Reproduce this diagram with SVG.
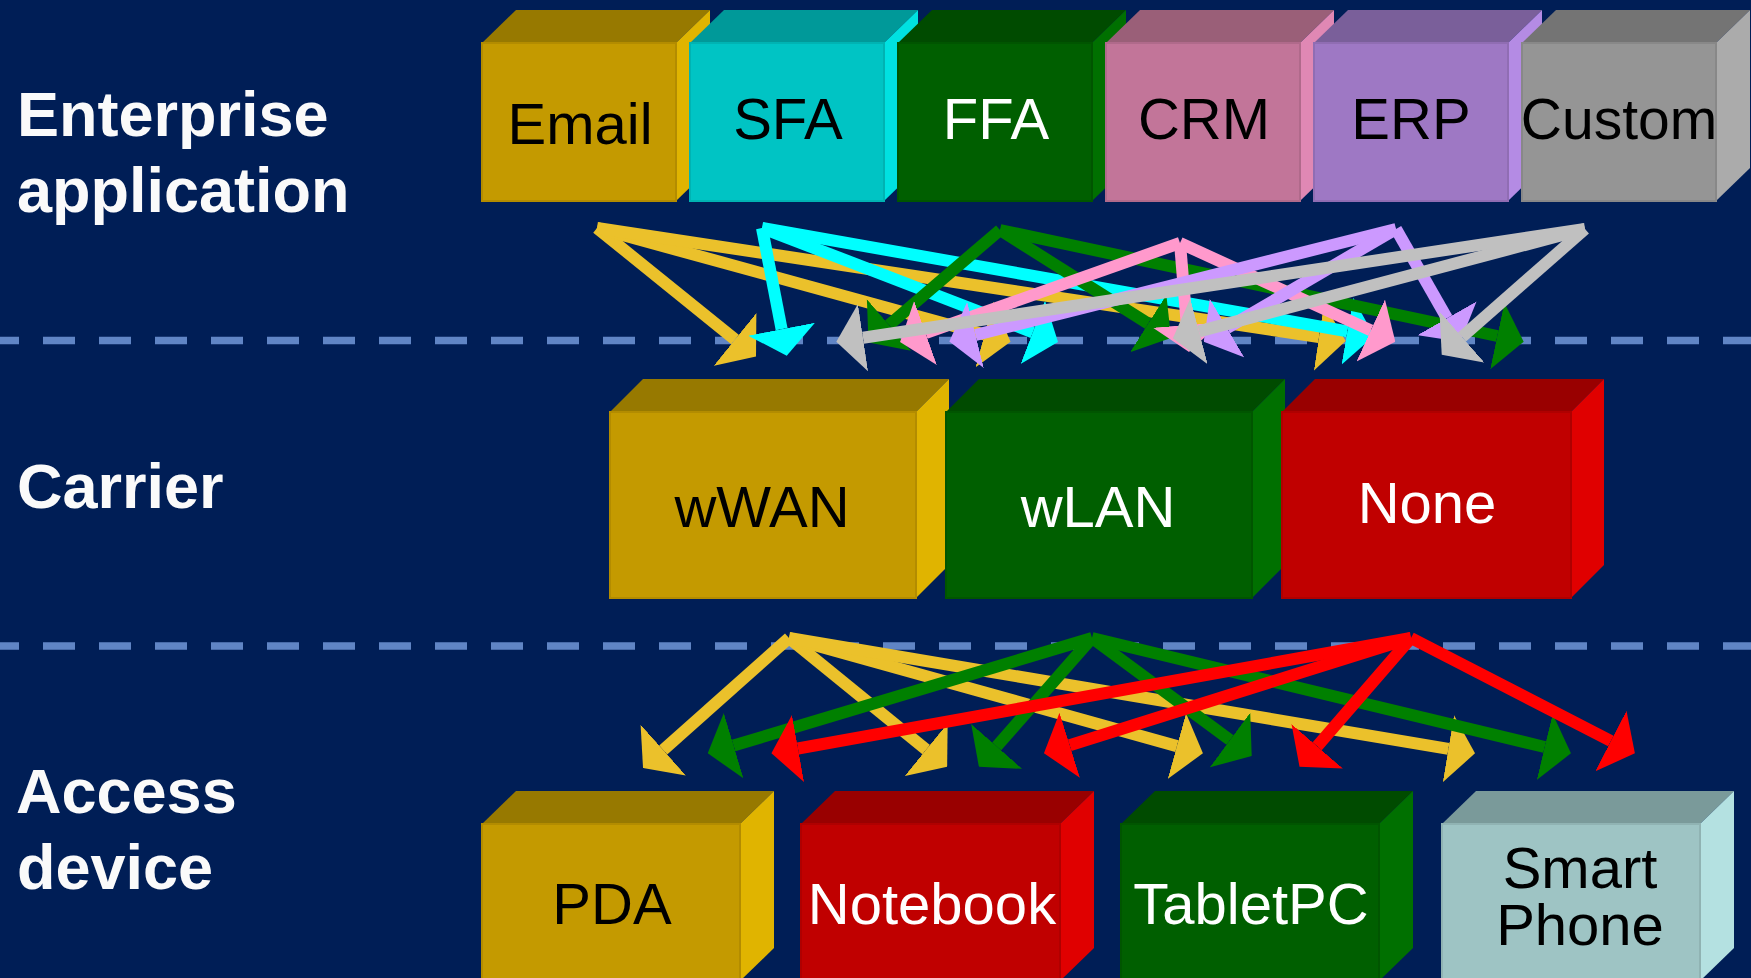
<svg xmlns="http://www.w3.org/2000/svg" width="1751" height="978" viewBox="0 0 1751 978">
  <style>
    .label { font-family: "Liberation Sans", Arial, sans-serif; font-weight: bold; font-size: 63px; fill: #FAFAFA; }
    .node-text { font-family: "Liberation Sans", Arial, sans-serif; font-size: 58px; text-anchor: middle; }
    .dark { fill: #000000; }
    .light { fill: #FFFFFF; }
    .divider { stroke: #6085C5; stroke-width: 7.5; stroke-dasharray: 32 24; fill: none; }
    .front { stroke-width: 2; }
    /* colour sets for the 3D boxes: front / top / side */
    .gold .front { fill: #C49A00; stroke: #B38C00; }
    .gold .top { fill: #977900; }
    .gold .side { fill: #E0B400; }
    .cyan .front { fill: #00C4C4; stroke: #00B3B3; }
    .cyan .top { fill: #009999; }
    .cyan .side { fill: #00E1E1; }
    .green .front { fill: #005F00; stroke: #005500; }
    .green .top { fill: #004B00; }
    .green .side { fill: #007000; }
    .pink .front { fill: #C27599; stroke: #B06A8B; }
    .pink .top { fill: #9A5F78; }
    .pink .side { fill: #E088B4; }
    .lavender .front { fill: #9E78C4; stroke: #906DB3; }
    .lavender .top { fill: #7A5F9A; }
    .lavender .side { fill: #B48BE4; }
    .grey .front { fill: #959595; stroke: #888888; }
    .grey .top { fill: #747474; }
    .grey .side { fill: #ABABAB; }
    .red .front { fill: #C00000; stroke: #AF0000; }
    .red .top { fill: #990000; }
    .red .side { fill: #E00000; }
    .teal .front { fill: #9EC4C4; stroke: #90B3B3; }
    .teal .top { fill: #7A9A9A; }
    .teal .side { fill: #B4E1E1; }
    /* connectors */
    #connectors line { stroke-width: 12; fill: none; }
    .a-yellow { stroke: #EBC12B; marker-end: url(#head-yellow); }
    .a-cyan { stroke: #00FFFF; marker-end: url(#head-cyan); }
    .a-green { stroke: #008000; marker-end: url(#head-green); }
    .a-pink { stroke: #FF99CC; marker-end: url(#head-pink); }
    .a-lavender { stroke: #CC99FF; marker-end: url(#head-lavender); }
    .a-grey { stroke: #C0C0C0; marker-end: url(#head-grey); }
    .a-red { stroke: #FF0000; marker-end: url(#head-red); }
  </style>
  <defs>
    <marker id="head-yellow" markerUnits="userSpaceOnUse" viewBox="0 0 27 68" markerWidth="27" markerHeight="68" refX="0" refY="34" orient="auto"><path d="M0,0 L27,34 L0,68 Z" fill="#EBC12B"/></marker>
    <marker id="head-cyan" markerUnits="userSpaceOnUse" viewBox="0 0 27 68" markerWidth="27" markerHeight="68" refX="0" refY="34" orient="auto"><path d="M0,0 L27,34 L0,68 Z" fill="#00FFFF"/></marker>
    <marker id="head-green" markerUnits="userSpaceOnUse" viewBox="0 0 27 68" markerWidth="27" markerHeight="68" refX="0" refY="34" orient="auto"><path d="M0,0 L27,34 L0,68 Z" fill="#008000"/></marker>
    <marker id="head-pink" markerUnits="userSpaceOnUse" viewBox="0 0 27 68" markerWidth="27" markerHeight="68" refX="0" refY="34" orient="auto"><path d="M0,0 L27,34 L0,68 Z" fill="#FF99CC"/></marker>
    <marker id="head-lavender" markerUnits="userSpaceOnUse" viewBox="0 0 27 68" markerWidth="27" markerHeight="68" refX="0" refY="34" orient="auto"><path d="M0,0 L27,34 L0,68 Z" fill="#CC99FF"/></marker>
    <marker id="head-grey" markerUnits="userSpaceOnUse" viewBox="0 0 27 68" markerWidth="27" markerHeight="68" refX="0" refY="34" orient="auto"><path d="M0,0 L27,34 L0,68 Z" fill="#C0C0C0"/></marker>
    <marker id="head-red" markerUnits="userSpaceOnUse" viewBox="0 0 27 68" markerWidth="27" markerHeight="68" refX="0" refY="34" orient="auto"><path d="M0,0 L27,34 L0,68 Z" fill="#FF0000"/></marker>
  </defs>

  <!-- background -->
  <rect x="0" y="0" width="1751" height="978" fill="#001E56"/>

  <!-- layer dividers -->
  <line class="divider" x1="-13" y1="340.5" x2="1751" y2="340.5"/>
  <line class="divider" x1="-13" y1="646" x2="1751" y2="646"/>

  <!-- layer labels -->
  <g id="layer-labels">
    <text class="label" x="17" y="136">Enterprise</text>
    <text class="label" x="17" y="212">application</text>
    <text class="label" x="17" y="508">Carrier</text>
    <text class="label" x="16" y="813">Access</text>
    <text class="label" x="17" y="889">device</text>
  </g>

  <!-- enterprise applications (front y 43..201, depth 34/33) -->
  <g id="node-email" class="gold">
    <polygon class="top" points="482,43 516,10 710,10 676,43"/>
    <polygon class="side" points="676,43 710,10 710,168 676,201"/>
    <rect class="front" x="482" y="43" width="194" height="158"/>
    <text class="node-text dark" x="580" y="144">Email</text>
  </g>
  <g id="node-sfa" class="cyan">
    <polygon class="top" points="690,43 724,10 918,10 884,43"/>
    <polygon class="side" points="884,43 918,10 918,168 884,201"/>
    <rect class="front" x="690" y="43" width="194" height="158"/>
    <text class="node-text dark" x="788" y="139">SFA</text>
  </g>
  <g id="node-ffa" class="green">
    <polygon class="top" points="898,43 932,10 1126,10 1092,43"/>
    <polygon class="side" points="1092,43 1126,10 1126,168 1092,201"/>
    <rect class="front" x="898" y="43" width="194" height="158"/>
    <text class="node-text light" x="996" y="139">FFA</text>
  </g>
  <g id="node-crm" class="pink">
    <polygon class="top" points="1106,43 1140,10 1334,10 1300,43"/>
    <polygon class="side" points="1300,43 1334,10 1334,168 1300,201"/>
    <rect class="front" x="1106" y="43" width="194" height="158"/>
    <text class="node-text dark" x="1204" y="139">CRM</text>
  </g>
  <g id="node-erp" class="lavender">
    <polygon class="top" points="1314,43 1348,10 1542,10 1508,43"/>
    <polygon class="side" points="1508,43 1542,10 1542,168 1508,201"/>
    <rect class="front" x="1314" y="43" width="194" height="158"/>
    <text class="node-text dark" x="1411" y="139">ERP</text>
  </g>
  <g id="node-custom" class="grey">
    <polygon class="top" points="1522,43 1556,10 1750,10 1716,43"/>
    <polygon class="side" points="1716,43 1750,10 1750,168 1716,201"/>
    <rect class="front" x="1522" y="43" width="194" height="158"/>
    <text class="node-text dark" x="1619" y="139" style="font-size:57px">Custom</text>
  </g>

  <!-- carriers (front y 412..598) -->
  <g id="node-wwan" class="gold">
    <polygon class="top" points="610,412 643,379 949,379 916,412"/>
    <polygon class="side" points="916,412 949,379 949,565 916,598"/>
    <rect class="front" x="610" y="412" width="306" height="186"/>
    <text class="node-text dark" x="762" y="527">wWAN</text>
  </g>
  <g id="node-wlan" class="green">
    <polygon class="top" points="946,412 979,379 1285,379 1252,412"/>
    <polygon class="side" points="1252,412 1285,379 1285,565 1252,598"/>
    <rect class="front" x="946" y="412" width="306" height="186"/>
    <text class="node-text light" x="1098" y="527">wLAN</text>
  </g>
  <g id="node-none" class="red">
    <polygon class="top" points="1282,412 1315,379 1604,379 1571,412"/>
    <polygon class="side" points="1571,412 1604,379 1604,565 1571,598"/>
    <rect class="front" x="1282" y="412" width="289" height="186"/>
    <text class="node-text light" x="1427" y="523">None</text>
  </g>

  <!-- access devices (front from y 824, running off the bottom) -->
  <g id="node-pda" class="gold">
    <polygon class="top" points="482,824 516,791 774,791 740,824"/>
    <polygon class="side" points="740,824 774,791 774,948 740,981"/>
    <rect class="front" x="482" y="824" width="258" height="157"/>
    <text class="node-text dark" x="612" y="924">PDA</text>
  </g>
  <g id="node-notebook" class="red">
    <polygon class="top" points="801,824 835,791 1094,791 1060,824"/>
    <polygon class="side" points="1060,824 1094,791 1094,948 1060,981"/>
    <rect class="front" x="801" y="824" width="259" height="157"/>
    <text class="node-text light" x="932" y="924">Notebook</text>
  </g>
  <g id="node-tabletpc" class="green">
    <polygon class="top" points="1121,824 1155,791 1413,791 1379,824"/>
    <polygon class="side" points="1379,824 1413,791 1413,948 1379,981"/>
    <rect class="front" x="1121" y="824" width="258" height="157"/>
    <text class="node-text light" x="1251" y="924">TabletPC</text>
  </g>
  <g id="node-smartphone" class="teal">
    <polygon class="top" points="1442,824 1476,791 1734,791 1700,824"/>
    <polygon class="side" points="1700,824 1734,791 1734,948 1700,981"/>
    <rect class="front" x="1442" y="824" width="258" height="157"/>
    <text class="node-text dark" x="1580" y="888">Smart</text>
    <text class="node-text dark" x="1580" y="945">Phone</text>
  </g>

  <!-- connectors: each line ends at the base of its arrowhead -->
  <g id="connectors">
    <!-- Email -->
    <line class="a-yellow" x1="597" y1="228" x2="735" y2="339.5"/>
    <line class="a-yellow" x1="597" y1="228" x2="984.5" y2="334.5"/>
    <line class="a-yellow" x1="597" y1="228" x2="1319" y2="337"/>
    <!-- SFA -->
    <line class="a-cyan" x1="762" y1="228" x2="781.6" y2="329.2"/>
    <line class="a-cyan" x1="762" y1="228" x2="1032.8" y2="332.3"/>
    <line class="a-cyan" x1="762" y1="228" x2="1347.4" y2="331.3"/>
    <!-- FFA -->
    <line class="a-green" x1="1000" y1="230" x2="889" y2="325"/>
    <line class="a-green" x1="1000" y1="230" x2="1148.2" y2="323.6"/>
    <line class="a-green" x1="1000" y1="230" x2="1497.3" y2="336"/>
    <!-- CRM -->
    <line class="a-pink" x1="1180" y1="243" x2="925.5" y2="333"/>
    <line class="a-pink" x1="1180" y1="243" x2="1186.8" y2="325"/>
    <line class="a-pink" x1="1180" y1="243" x2="1370.8" y2="330.4"/>
    <!-- ERP -->
    <line class="a-lavender" x1="1396" y1="229" x2="975.5" y2="335"/>
    <line class="a-lavender" x1="1396" y1="229" x2="1227" y2="328"/>
    <line class="a-lavender" x1="1396" y1="229" x2="1447" y2="318.3"/>
    <!-- Custom -->
    <line class="a-grey" x1="1585" y1="229" x2="863" y2="337.7"/>
    <line class="a-grey" x1="1585" y1="229" x2="1199" y2="331.4"/>
    <line class="a-grey" x1="1585" y1="229" x2="1462" y2="337"/>
    <!-- wWAN -->
    <line class="a-yellow" x1="789" y1="638" x2="663.2" y2="750"/>
    <line class="a-yellow" x1="789" y1="638" x2="926.2" y2="749.6"/>
    <line class="a-yellow" x1="789" y1="638" x2="1176.9" y2="746.1"/>
    <line class="a-yellow" x1="789" y1="638" x2="1448.4" y2="748.8"/>
    <!-- wLAN -->
    <line class="a-green" x1="1092" y1="638" x2="733.6" y2="745.6"/>
    <line class="a-green" x1="1092" y1="638" x2="996.7" y2="746.4"/>
    <line class="a-green" x1="1092" y1="638" x2="1230" y2="740"/>
    <line class="a-green" x1="1092" y1="638" x2="1544.7" y2="747"/>
    <!-- None -->
    <line class="a-red" x1="1411" y1="638" x2="798" y2="748.5"/>
    <line class="a-red" x1="1411" y1="638" x2="1069.7" y2="745.2"/>
    <line class="a-red" x1="1411" y1="638" x2="1317.2" y2="746.3"/>
    <line class="a-red" x1="1411" y1="638" x2="1610.9" y2="741"/>
  </g>
</svg>
